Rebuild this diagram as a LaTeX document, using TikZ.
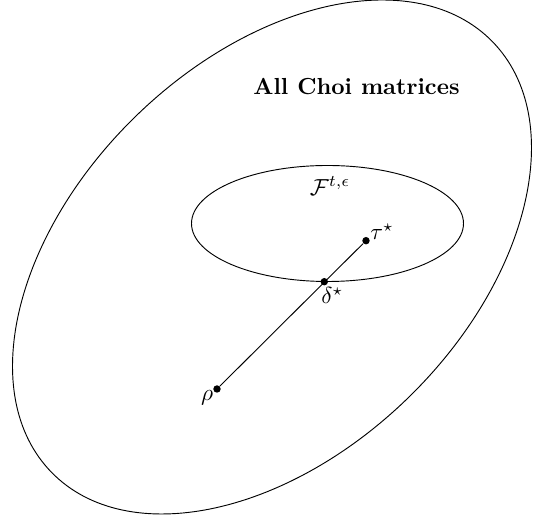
\documentclass[tikz,border=0pt]{standalone}
\usepackage{amsmath}
\begin{document}
\begin{tikzpicture}[x=0.431pt,y=0.431pt,
  pt/.style={circle,fill=black,inner sep=0pt,minimum size=3.2pt},
  lbl/.style={inner sep=0pt}]
\useasboundingbox (0,0) rectangle (543,523);
% big set
\draw[line width=0.4pt] (272,266) ellipse [x radius=308.2, y radius=195.9, rotate=44.35];
% inner set
\draw[line width=0.4pt] (327.5,299.5) ellipse [x radius=136, y radius=58];
\node[lbl] (all) at (356.5,436) {\bfseries All Choi matrices};
\node[lbl] (F) at (330,337) {$\mathcal{F}^{t,\epsilon}$};
% points
\node[pt] (tau) at (366,282.3) {};
\node[pt] (delta) at (324.3,241.3) {};
\node[pt] (rho) at (217,134) {};
\draw (rho) -- (tau);
\node[lbl] (taul) at ([shift={(16,9)}]tau.center) {$\tau^{\star}$};
\node[lbl] (deltal) at ([shift={(8,-14)}]delta.center) {$\delta^{\star}$};
\node[lbl] (rhol) at ([shift={(-10,-9)}]rho.center) {$\rho$};
\end{tikzpicture}
\end{document}
